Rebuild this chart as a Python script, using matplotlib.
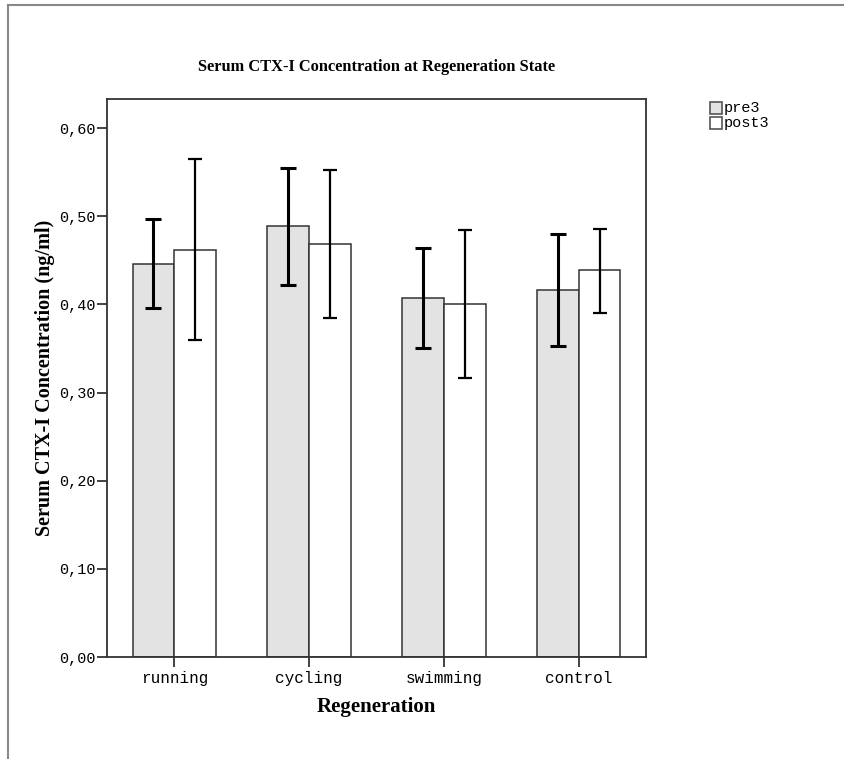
import numpy as np
import matplotlib.pyplot as plt
from matplotlib.patches import Rectangle
from matplotlib.lines import Line2D

categories = ['running', 'cycling', 'swimming', 'control']
pre3 = [0.446, 0.489, 0.407, 0.416]
post3 = [0.462, 0.469, 0.401, 0.439]
pre3_low = [0.396, 0.422, 0.350, 0.353]
pre3_high = [0.497, 0.555, 0.464, 0.480]
post3_low = [0.360, 0.384, 0.317, 0.390]
post3_high = [0.565, 0.553, 0.484, 0.486]
yticks = [0.0, 0.1, 0.2, 0.3, 0.4, 0.5, 0.6]

serif = 'Liberation Serif'
mono = 'Liberation Mono'

fig = plt.figure(figsize=(8.45, 7.59), dpi=100)
W, H = 845, 759
ax = fig.add_axes([107 / W, 1 - 657 / H, 539 / W, 558 / H])

x = np.arange(len(categories))
w = 0.31
ax.bar(x - w / 2, pre3, w, color='#e3e3e3', edgecolor='#333333', linewidth=1.1)
ax.bar(x + w / 2, post3, w, color='white', edgecolor='#333333', linewidth=1.1)

pre = np.array(pre3)
post = np.array(post3)
ax.errorbar(x - w / 2, pre, yerr=[pre - np.array(pre3_low), np.array(pre3_high) - pre],
            fmt='none', ecolor='black', elinewidth=2.2, capsize=5.5, capthick=2.2)
ax.errorbar(x + w / 2, post, yerr=[post - np.array(post3_low), np.array(post3_high) - post],
            fmt='none', ecolor='black', elinewidth=1.6, capsize=5, capthick=1.6)

ax.set_xlim(-0.5, len(categories) - 0.5)
ax.set_ylim(0, 0.633)
ax.set_yticks(yticks)
ax.set_yticklabels([f'{v:.2f}'.replace('.', ',') for v in yticks], fontfamily=mono, fontsize=11)
ax.set_xticks(x)
ax.set_xticklabels(categories, fontfamily=mono, fontsize=11.5)
ax.tick_params(axis='both', direction='out', length=7, width=1.3, color='#333333', pad=1)
ax.tick_params(axis='x', pad=3)
for s in ax.spines.values():
    s.set_color('#333333')
    s.set_linewidth(1.3)

ax.set_title('Serum CTX-I Concentration at Regeneration State', fontfamily=serif,
             fontweight='bold', fontsize=11.8, pad=20)
ax.set_xlabel('Regeneration', fontfamily=serif, fontweight='bold', fontsize=15, labelpad=8)
ax.set_ylabel('Serum CTX-I Concentration (ng/ml)', fontfamily=serif, fontweight='bold',
              fontsize=14.5, labelpad=3)

# legend
for i, (lab, col) in enumerate([('pre3', '#e3e3e3'), ('post3', 'white')]):
    y0 = 102 + i * 15
    fig.patches.append(Rectangle((710 / W, 1 - (y0 + 12) / H), 12 / W, 12 / H,
                                 transform=fig.transFigure, facecolor=col,
                                 edgecolor='#555555', linewidth=1.2))
    fig.text(724 / W, 1 - (y0 + 6) / H, lab, fontfamily=mono, fontsize=11, va='center')

# outer frame lines
fig.lines.append(Line2D([8 / W, 1], [1 - 5 / H, 1 - 5 / H], transform=fig.transFigure,
                        color='#888888', linewidth=1.5))
fig.lines.append(Line2D([8 / W, 8 / W], [1 - 5 / H, 0], transform=fig.transFigure,
                        color='#888888', linewidth=1.5))

fig.savefig('out.png', dpi=100)
